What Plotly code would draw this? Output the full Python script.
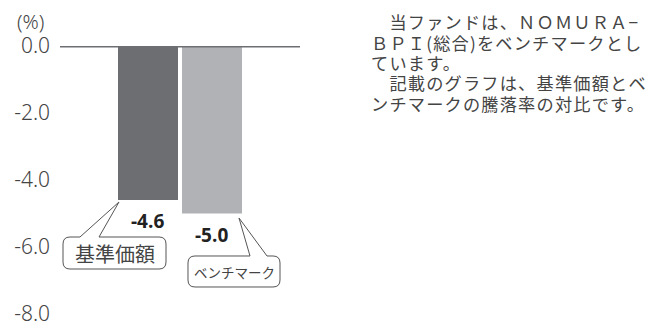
import plotly.graph_objects as go

categories = ["基準価額", "ベンチマーク"]
values = [-4.6, -5.0]
bar_colors = ["#6d6e72", "#b1b2b5"]
y_ticks = [0, -2, -4, -6, -8]
y_tick_labels = ["0.0", "-2.0", "-4.0", "-6.0", "-8.0"]
value_labels = ["-4.6", "-5.0"]
note_lines = [
    "\u3000当ファンドは、ＮＯＭＵＲＡ−",
    "ＢＰＩ(総合)をベンチマークとし",
    "ています。",
    "\u3000記載のグラフは、基準価額とベ",
    "ンチマークの騰落率の対比です。",
]

W, H = 659, 324
L, T, PW, PH = 60, 46, 240, 268


def px(x):
    return (x - L) / PW


def py(y):
    return 1 - (y - T) / PH


def callout(x0, y0, x1, y1, r, tl, tr, ax, ay):
    def P(x, y):
        return f"{px(x):.5f},{py(y):.5f}"
    return (f"M {P(x0 + r, y0)} L {P(tl, y0)} L {P(ax, ay)} L {P(tr, y0)} "
            f"L {P(x1 - r, y0)} Q {P(x1, y0)} {P(x1, y0 + r)} "
            f"L {P(x1, y1 - r)} Q {P(x1, y1)} {P(x1 - r, y1)} "
            f"L {P(x0 + r, y1)} Q {P(x0, y1)} {P(x0, y1 - r)} "
            f"L {P(x0, y0 + r)} Q {P(x0, y0)} {P(x0 + r, y0)} Z")


fig = go.Figure()
fig.add_trace(go.Bar(
    x=[0, 1], y=values, marker=dict(color=bar_colors, line=dict(width=0)),
    hoverinfo="skip", showlegend=False,
))

cjk = "Noto Sans CJK JP"
fig.update_layout(
    width=W, height=H,
    margin=dict(l=L, r=W - L - PW, t=T, b=H - T - PH, pad=0),
    plot_bgcolor="white", paper_bgcolor="white",
    bargap=0.0625,
    xaxis=dict(range=[-1.375, 2.375], showticklabels=False, showgrid=False,
               zeroline=False, showline=False, fixedrange=True, automargin=False),
    yaxis=dict(range=[-8, 0], tickvals=y_ticks, ticktext=y_tick_labels,
               showgrid=False, zeroline=False, showline=False, ticks="",
               ticklabelstandoff=9, ticklabeloverflow="allow", automargin=False,
               tickfont=dict(family="Noto Sans", size=21, color="#444444", weight=300)),
    font=dict(family=cjk),
)

# zero line
fig.add_shape(type="line", xref="paper", yref="y", x0=0, x1=1, y0=0, y1=0,
              line=dict(color="#6d6e72", width=3), layer="above")

# callouts
fig.add_shape(type="path", xref="paper", yref="paper",
              path=callout(63, 237, 166, 269, 7, 80, 99, 119, 202),
              line=dict(color="#555555", width=1), fillcolor="white", layer="above")
fig.add_shape(type="path", xref="paper", yref="paper",
              path=callout(188, 256, 280, 287, 7, 250, 267, 239, 218),
              line=dict(color="#555555", width=1), fillcolor="white", layer="above")

ann = []
for i, (v, t) in enumerate(zip(values, value_labels)):
    ann.append(dict(x=i, y=v, xref="x", yref="y", text=t, showarrow=False,
                    yanchor="top", yshift=-6, xshift=-1,
                    font=dict(family="Open Sans", size=19, color="#222222", weight="bold")))
ann.append(dict(x=px(114.5), y=py(253), xref="paper", yref="paper", text=categories[0],
                showarrow=False, xanchor="center", yanchor="middle",
                font=dict(family=cjk, size=20, color="#444444")))
ann.append(dict(x=px(234), y=py(272), xref="paper", yref="paper", text=categories[1],
                showarrow=False, xanchor="center", yanchor="middle",
                font=dict(family=cjk, size=13.5, color="#444444")))
ann.append(dict(x=px(30.5), y=py(22), xref="paper", yref="paper", text="(%)",
                showarrow=False, xanchor="center", yanchor="middle",
                font=dict(family="Noto Sans", size=20, color="#444444", weight=300)))
for i, line in enumerate(note_lines):
    ann.append(dict(x=px(369), y=py(22 + i * 20.3), xref="paper", yref="paper",
                    text=f'<span style="letter-spacing:1.2px">{line}</span>',
                    showarrow=False, xanchor="left", yanchor="middle",
                    font=dict(family=cjk, size=17.2, color="#444444")))

fig.update_layout(annotations=ann)
fig.write_html("out.html", config={"displayModeBar": False},
               post_script="document.body.style.margin='0';document.body.style.padding='0';document.body.style.overflow='hidden';")
